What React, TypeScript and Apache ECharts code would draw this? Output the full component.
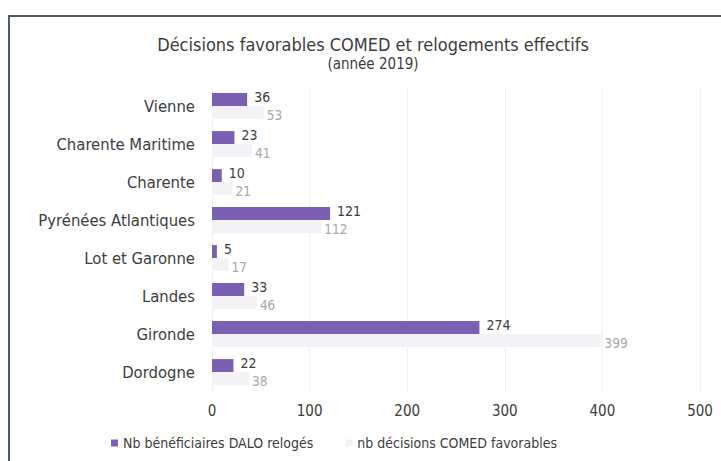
import React, { useEffect, useRef } from "react";
import * as echarts from "echarts";

const categories = [
  "Vienne",
  "Charente Maritime",
  "Charente",
  "Pyrénées Atlantiques",
  "Lot et Garonne",
  "Landes",
  "Gironde",
  "Dordogne",
];
const relogesValues = [36, 23, 10, 121, 5, 33, 274, 22];
const decisionsValues = [53, 41, 21, 112, 17, 46, 399, 38];
const seriesNames = ["Nb bénéficiaires DALO relogés", "nb décisions COMED favorables"];
const titleText = "Décisions favorables COMED et relogements effectifs";
const subtitleText = "(année 2019)";

const FONT = "'DejaVu Sans Condensed', 'Liberation Sans Narrow', 'Liberation Sans', sans-serif";

export default function App() {
  const ref = useRef<HTMLDivElement>(null);
  useEffect(() => {
    if (!ref.current) return;
    const chart = echarts.init(ref.current, null, { renderer: "svg" });
    chart.setOption({
      animation: false,
      backgroundColor: "#ffffff",
      textStyle: { fontFamily: FONT },
      title: {
        text: titleText,
        subtext: subtitleText,
        left: 368,
        textAlign: "center",
        top: 30,
        itemGap: 3,
        textStyle: { fontFamily: FONT, fontSize: 18, fontWeight: "normal", color: "#3c3c3c" },
        subtextStyle: { fontFamily: FONT, fontSize: 15, color: "#3c3c3c" },
      },
      graphic: [
        {
          type: "rect",
          shape: { x: 9, y: 16, width: 800, height: 600 },
          style: { fill: "none", stroke: "#4d5b6b", lineWidth: 2 },
          silent: true,
        },
      ],
      legend: {
        left: 106,
        top: 431,
        itemWidth: 7,
        itemHeight: 7,
        itemGap: 32,
        icon: "rect",
        textStyle: { fontFamily: FONT, fontSize: 14, color: "#3c3c3c" },
        data: seriesNames,
      },
      grid: { left: 212, right: 21, top: 87, bottom: 70 },
      xAxis: {
        type: "value",
        min: 0,
        max: 500,
        interval: 100,
        axisLine: { show: false },
        axisTick: { show: false },
        axisLabel: { fontFamily: FONT, fontSize: 15, color: "#3c3c3c", margin: 12 },
        splitLine: { show: true, lineStyle: { color: "#f0f0f0", width: 1 } },
      },
      yAxis: {
        type: "category",
        inverse: true,
        data: categories,
        axisLine: { show: false },
        axisTick: { show: false },
        axisLabel: {
          fontFamily: FONT,
          fontSize: 16.5,
          color: "#3c3c3c",
          margin: 17,
          padding: [0, 0, 6, 0],
        },
      },
      series: [
        {
          name: seriesNames[0],
          type: "bar",
          data: relogesValues,
          barGap: "0%",
          barCategoryGap: "32%",
          itemStyle: { color: "#7b5fb3" },
          label: {
            show: true,
            position: "right",
            distance: 7,
            offset: [0, -3],
            fontFamily: FONT,
            fontSize: 14,
            color: "#3c3c3c",
          },
        },
        {
          name: seriesNames[1],
          type: "bar",
          data: decisionsValues,
          barGap: "0%",
          barCategoryGap: "32%",
          itemStyle: { color: "#f4f2f6" },
          label: {
            show: true,
            position: "right",
            distance: 2,
            offset: [1, 3],
            fontFamily: FONT,
            fontSize: 13.5,
            color: "#a8a8a8",
          },
        },
      ],
    });
    return () => chart.dispose();
  }, []);
  return (
    <div
      ref={ref}
      style={{ position: "absolute", left: 0, top: 0, width: 721, height: 461 }}
    />
  );
}
